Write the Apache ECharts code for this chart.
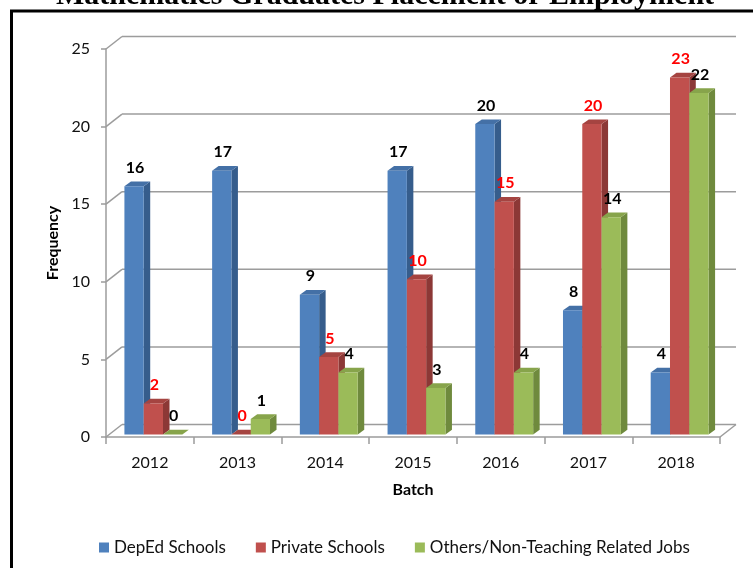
<!DOCTYPE html>
<html>
<head>
<meta charset="utf-8">
<script src="https://cdn.jsdelivr.net/npm/echarts@6/dist/echarts.min.js"></script>
<style>
  html, body { margin: 0; padding: 0; background: #fff; }
  #chart { width: 753px; height: 568px; }
</style>
</head>
<body>
<div id="chart"></div>
<script>
// Placement counts per graduating batch
const batches = ['2012', '2013', '2014', '2015', '2016', '2017', '2018'];
const depedSchools = [16, 17, 9, 17, 20, 8, 4];
const privateSchools = [2, 0, 5, 10, 15, 20, 23];
const otherJobs = [0, 1, 4, 3, 4, 14, 22];
const seriesNames = ['DepEd Schools', 'Private Schools', 'Others/Non-Teaching Related Jobs'];
const yTicks = [0, 5, 10, 15, 20, 25];

// 3D look: back wall offset and bar depth (pixels)
const WALL_DX = 16, WALL_DY = -12.5;
const BAR_SHIFT_X = 3.5, BAR_SHIFT_Y = -2.5;
const BAR_DX = 6.5, BAR_DY = -4.7;
const BAR_RATIO = 0.22;
const LINE_COLOR = '#9c9c9c';
const FONT = 'Lato, "Open Sans", sans-serif';

const palettes = [
  { front: '#4F81BD', side: '#365D8C', top: '#4470A6' },
  { front: '#C0504D', side: '#8C3836', top: '#A54441' },
  { front: '#9BBB59', side: '#6F8A3D', top: '#87A44B' }
];
const labelColors = ['#000000', '#FF0000', '#000000'];

function barRenderer(k) {
  const pal = palettes[k];
  return function (params, api) {
    const i = api.value(0);
    const v = api.value(1);
    const base = api.coord([i, 0]);
    const top = api.coord([i, v]);
    const band = api.size([1, 0])[0];
    const bw = band * BAR_RATIO;
    const x = base[0] + BAR_SHIFT_X - 1.5 * bw + k * bw;
    const yb = base[1] + BAR_SHIFT_Y;
    const yt = top[1] + BAR_SHIFT_Y;
    return {
      type: 'group',
      children: [
        { type: 'polygon', shape: { points: [[x + bw, yt], [x + bw + BAR_DX, yt + BAR_DY], [x + bw + BAR_DX, yb + BAR_DY], [x + bw, yb]] },
          style: { fill: pal.side } },
        { type: 'polygon', shape: { points: [[x, yt], [x + BAR_DX, yt + BAR_DY], [x + bw + BAR_DX, yt + BAR_DY], [x + bw, yt]] },
          style: { fill: pal.top } },
        { type: 'rect', shape: { x: x, y: yt, width: bw, height: yb - yt },
          style: { fill: pal.front } },
        { type: 'text', style: { text: String(v), x: x + bw / 2 + 1, y: yt - 18.5,
            fill: labelColors[k], font: 'bold 16px ' + FONT, align: 'center', verticalAlign: 'middle' } }
      ]
    };
  };
}

// Back wall gridlines plus the slanted connectors from the front axis
function wallRenderer(params, api) {
  const cs = params.coordSys;
  const v = api.value(1);
  const y = api.coord([0, v])[1];
  const x0 = cs.x, x1 = cs.x + cs.width;
  const ls = { stroke: LINE_COLOR, lineWidth: 1.5 };
  const children = [
    { type: 'line', shape: { x1: x0, y1: y, x2: x0 + WALL_DX, y2: y + WALL_DY }, style: ls },
    { type: 'line', shape: { x1: x0 + WALL_DX, y1: y + WALL_DY, x2: x1 + WALL_DX, y2: y + WALL_DY }, style: ls }
  ];
  if (v === 0) {
    children.push({ type: 'line', shape: { x1: x1, y1: y, x2: x1 + WALL_DX, y2: y + WALL_DY }, style: ls });
  }
  return { type: 'group', children: children };
}

const seriesData = [depedSchools, privateSchools, otherJobs];

const chart = echarts.init(document.getElementById('chart'), null, { renderer: 'canvas' });
chart.setOption({
  animation: false,
  backgroundColor: '#ffffff',
  graphic: [
    { type: 'text', x: 385, y: -4, z: 10,
      style: { text: 'Mathematics Graduates Placement or Employment', fill: '#000',
        font: 'bold 30px "Liberation Serif", "Times New Roman", serif', align: 'center', verticalAlign: 'middle' } },
    { type: 'rect', z: 10, shape: { x: 11.5, y: 11, width: 900, height: 700 },
      style: { fill: 'none', stroke: '#000', lineWidth: 3 } }
  ],
  grid: { left: 106, right: 33, top: 49, bottom: 131 },
  legend: {
    data: seriesNames,
    left: 94, top: 534,
    icon: 'rect', itemWidth: 10, itemHeight: 10, itemGap: 30,
    textStyle: { fontSize: 17, fontFamily: FONT, color: '#111' }
  },
  xAxis: {
    type: 'category',
    data: batches,
    name: 'Batch', nameLocation: 'middle', nameGap: 45,
    nameTextStyle: { fontSize: 16, fontWeight: 'bold', fontFamily: FONT, color: '#000' },
    axisLine: { lineStyle: { color: LINE_COLOR, width: 1.5 } },
    axisTick: { show: true, length: 7, lineStyle: { color: LINE_COLOR, width: 1.5 } },
    axisLabel: { fontSize: 16, fontFamily: FONT, color: '#111', margin: 18 },
    splitLine: { show: false }
  },
  yAxis: {
    type: 'value', min: 0, max: 25, interval: 5,
    name: 'Frequency', nameLocation: 'middle', nameGap: 41, nameRotate: 90,
    nameTextStyle: { fontSize: 16, fontWeight: 'bold', fontFamily: FONT, color: '#000' },
    axisLine: { show: true, lineStyle: { color: LINE_COLOR, width: 1.5 } },
    axisTick: { show: true, length: 5, lineStyle: { color: LINE_COLOR, width: 1.5 } },
    axisLabel: { fontSize: 16, fontFamily: FONT, color: '#111', margin: 16 },
    splitLine: { show: false }
  },
  series: [
    { type: 'custom', name: 'wall', silent: true, z: 1,
      renderItem: wallRenderer,
      data: yTicks.map(function (v) { return [0, v]; }) }
  ].concat(seriesNames.map(function (name, k) {
    return {
      type: 'custom', name: name, z: 3 + k,
      itemStyle: { color: palettes[k].front },
      renderItem: barRenderer(k),
      encode: { x: 0, y: 1 },
      data: seriesData[k].map(function (v, i) { return [i, v]; })
    };
  }))
});
</script>
</body>
</html>
